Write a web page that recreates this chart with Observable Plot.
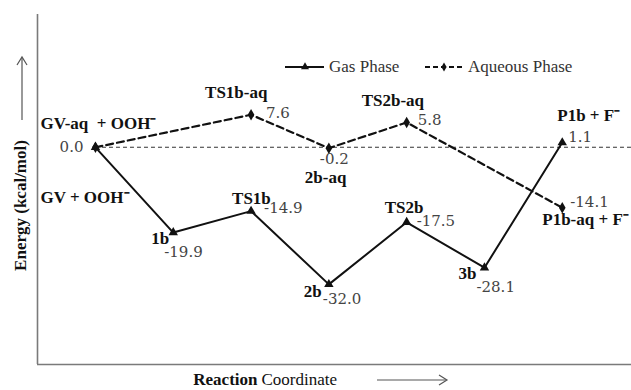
<!DOCTYPE html>
<html>
<head>
<meta charset="utf-8">
<script src="https://cdn.jsdelivr.net/npm/d3@7"></script>
<script src="https://cdn.jsdelivr.net/npm/@observablehq/plot@0.6"></script>
<style>
  body { margin: 0; background: #fff; }
  #chart { position: relative; width: 631px; height: 390px; }
</style>
</head>
<body>
<div id="chart"></div>
<script>
// ---- data ----
const gasNames = ["GV + OOH\u207B", "1b", "TS1b", "2b", "TS2b", "3b", "P1b + F\u207B"];
const gasSteps = [0, 1, 2, 3, 4, 5, 6];
const gasValues = [0.0, -19.9, -14.9, -32.0, -17.5, -28.1, 1.1];

const aqNames = ["GV-aq  + OOH\u207B", "TS1b-aq", "2b-aq", "TS2b-aq", "P1b-aq + F\u207B"];
const aqSteps = [0, 2, 3, 4, 6];
const aqValues = [0.0, 7.6, -0.2, 5.8, -14.1];

const seriesNames = ["Gas Phase", "Aqueous Phase"];

// ---- label placement (pixels, relative to each point) ----
const gasNameOff = [[-55, 50, "start"], [-22, 6, "start"], [-19, -13, "start"], [-25, 7, "start"], [-22, -15, "start"], [-26, 6, "start"], [-5, -27, "start"]];
const gasValOff = [[-12, 0, "end"], [-9, 20, "start"], [13, -3, "start"], [-6, 15, "start"], [10, -1, "start"], [-8, 20, "start"], [6, -5, "start"]];
const aqNameOff = [[-55, -24, "start"], [-46, -22, "start"], [-24, 29, "start"], [-45, -22, "start"], [-20, 12, "start"]];
const aqValOff = [null, [15, -2, "start"], [-9, 11, "start"], [11, -2, "start"], [8, -6, "start"]];

const gas = gasSteps.map((s, i) => ({x: s, y: gasValues[i], name: gasNames[i], val: gasValues[i].toFixed(1)}));
const aq = aqSteps.map((s, i) => ({x: s, y: aqValues[i], name: aqNames[i], val: aqValues[i].toFixed(1)}));

const xDomain = [-0.745, 6.89];
const yDomain = [-50.7, 31];
const FS = 17;
const NAME_FONT = "Liberation Serif";
const VAL_FONT = "DejaVu Serif";
const LEG_FONT = "Times New Roman";

function labelMarks(rows, offs, field, style) {
  return rows.map((r, i) => offs[i] ? Plot.text([r], {
    x: "x", y: "y", text: field,
    dx: offs[i][0], dy: offs[i][1], textAnchor: offs[i][2],
    fontSize: FS, ...style
  }) : null).filter(Boolean);
}

const nameStyle = {fontWeight: "bold", fill: "#111", fontFamily: NAME_FONT};
const valStyle = {fill: "#444", fontFamily: VAL_FONT, fontSize: 15};

const chart = Plot.plot({
  width: 631,
  height: 390,
  marginLeft: 37,
  marginRight: 0,
  marginTop: 14,
  marginBottom: 26,
  x: {domain: xDomain, axis: null},
  y: {domain: yDomain, axis: null},
  marks: [
    Plot.ruleX([xDomain[0]], {stroke: "#7a7a7a", strokeWidth: 1.6}),
    Plot.ruleY([yDomain[0]], {stroke: "#7a7a7a", strokeWidth: 1.6}),
    Plot.ruleY([0], {x1: 0, x2: xDomain[1], stroke: "#333", strokeWidth: 1.1, strokeDasharray: "4,3"}),
    Plot.line(aq, {x: "x", y: "y", stroke: "#111", strokeWidth: 2.2, strokeDasharray: "7,4"}),
    Plot.line(gas, {x: "x", y: "y", stroke: "#111", strokeWidth: 2}),
    Plot.dot(aq, {x: "x", y: "y", symbol: "diamond", r: 3.5, fill: "#111"}),
    Plot.dot(gas, {x: "x", y: "y", symbol: "triangle", r: 3.5, fill: "#111"}),
    ...labelMarks(gas, gasNameOff, "name", nameStyle),
    ...labelMarks(gas, gasValOff, "val", valStyle),
    ...labelMarks(aq, aqNameOff, "name", nameStyle),
    ...labelMarks(aq, aqValOff, "val", valStyle),
    // axis titles
    Plot.text(["Energy (kcal/mol)"], {frameAnchor: "left", dx: -17, dy: 16, rotate: -90, textAnchor: "middle", fontWeight: "bold", fontSize: FS, fontFamily: NAME_FONT, fill: "#111"}),
    Plot.text(["Reaction"], {frameAnchor: "bottom-left", dx: 220, dy: 20, textAnchor: "end", fontWeight: "bold", fontSize: FS, fontFamily: NAME_FONT, fill: "#111"}),
    Plot.text(["Coordinate"], {frameAnchor: "bottom-left", dx: 224, dy: 20, textAnchor: "start", fontSize: FS, fontFamily: NAME_FONT, fill: "#111"})
  ]
});

document.getElementById("chart").appendChild(chart);

// decorations: axis arrows and legend
const svg = d3.select(chart);
const deco = svg.append("g").attr("fill", "none").attr("stroke", "#555").attr("stroke-width", 1.2);
deco.append("line").attr("x1", 22).attr("y1", 120).attr("x2", 22).attr("y2", 58);
deco.append("path").attr("d", "M17,65 L22,57 L27,65");
deco.append("line").attr("x1", 377).attr("y1", 380).attr("x2", 446).attr("y2", 380);
deco.append("path").attr("d", "M439,375 L447,380 L439,385");

const leg = svg.append("g").attr("text-anchor", "start").attr("font-family", LEG_FONT);
leg.append("line").attr("x1", 285).attr("y1", 67).attr("x2", 324).attr("y2", 67).attr("stroke", "#111").attr("stroke-width", 2);
leg.append("path").attr("d", d3.symbol(d3.symbolTriangle, 28)()).attr("transform", "translate(305,67)").attr("fill", "#111");
leg.append("text").attr("x", 329).attr("y", 67).attr("dy", "0.32em").attr("font-size", FS).attr("fill", "#333").text(seriesNames[0]);
leg.append("line").attr("x1", 425).attr("y1", 67).attr("x2", 465).attr("y2", 67).attr("stroke", "#111").attr("stroke-width", 2).attr("stroke-dasharray", "5,3");
leg.append("path").attr("d", d3.symbol(d3.symbolDiamond, 24)()).attr("transform", "translate(444,67)").attr("fill", "#111");
leg.append("text").attr("x", 468).attr("y", 67).attr("dy", "0.32em").attr("font-size", FS).attr("fill", "#333").text(seriesNames[1]);
</script>
</body>
</html>
